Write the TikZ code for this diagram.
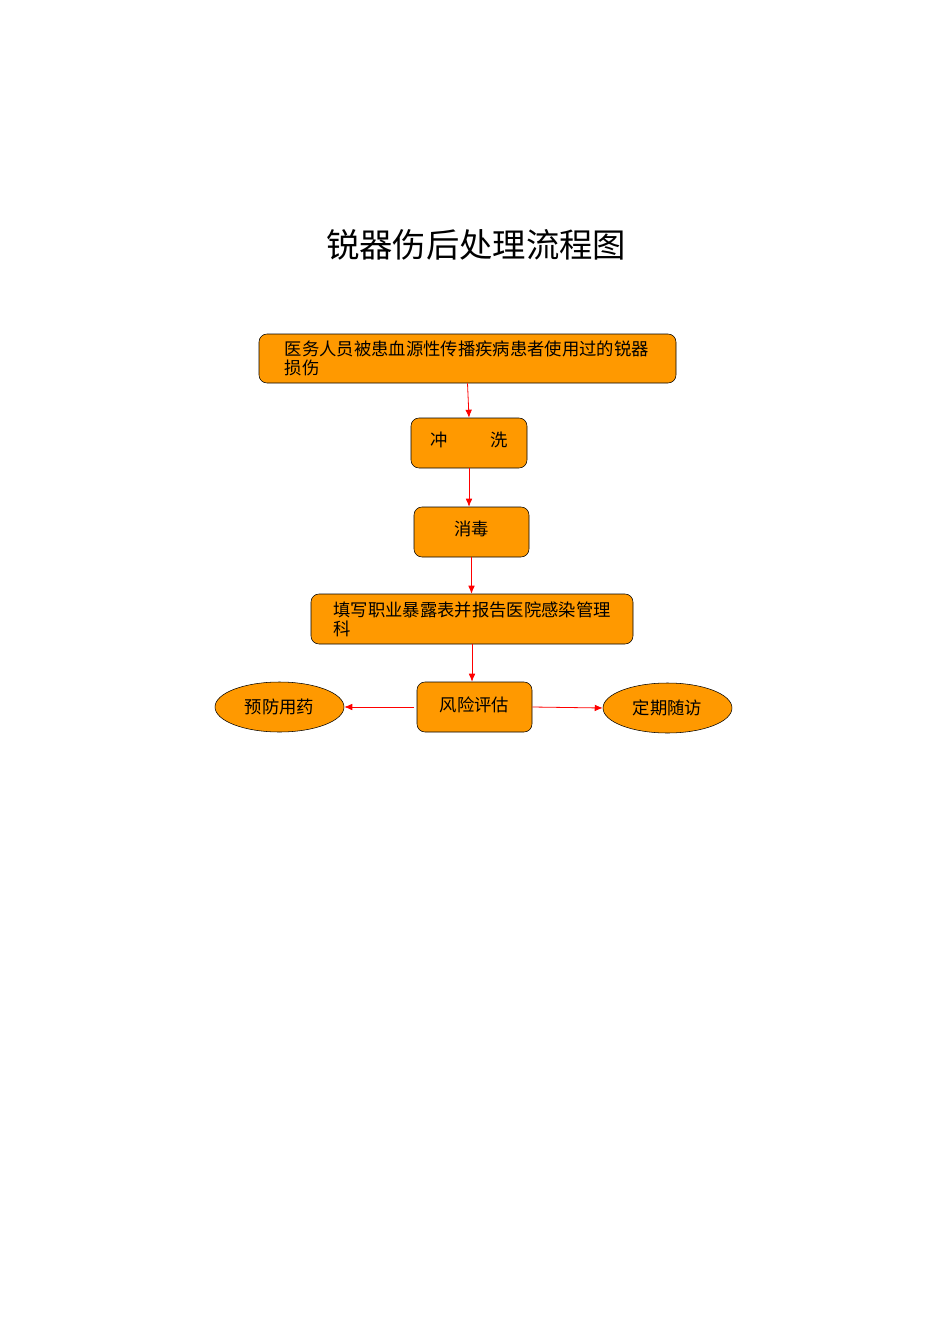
\documentclass[tikz,border=0pt]{standalone}
\usepackage{fontspec}
\setmainfont{Noto Sans CJK SC}
\usetikzlibrary{shapes.geometric,arrows.meta}
\definecolor{boxor}{HTML}{FF9900}
\tikzset{
  px/.style={x=0.75pt,y=-0.75pt},
  stepbox/.style={draw=black,fill=boxor,rounded corners=6pt,inner sep=0pt,font=\fontsize{13pt}{14.5pt}\selectfont},
  ovalbox/.style={draw=black,fill=boxor,ellipse,inner sep=0pt,font=\fontsize{13pt}{14.5pt}\selectfont},
  conn/.style={draw=red,-{Latex[length=6pt,width=5pt]},line width=0.6pt}
}
\begin{document}
\begin{tikzpicture}[px]
\useasboundingbox (0,0) rectangle (950,1344);
\node[font=\fontsize{25pt}{28pt}\selectfont] (title) at (476,245) {锐器伤后处理流程图};
\node[stepbox,minimum width=312.75pt,minimum height=36.75pt,text width=274pt,align=left] (b1) at (467.5,358.5) {医务人员被患血源性传播疾病患者使用过的锐器\\损伤};
\node[stepbox,minimum width=87pt,minimum height=37.5pt] (b2) at (469,443) {\raisebox{5pt}{冲\hspace{32pt}洗}};
\node[stepbox,minimum width=86.25pt,minimum height=37.5pt] (b3) at (471.5,532) {\raisebox{5pt}{消毒}};
\node[stepbox,minimum width=241.5pt,minimum height=37.5pt,text width=208pt,align=left] (b4) at (472,619) {填写职业暴露表并报告医院感染管理\\科};
\node[stepbox,minimum width=86.25pt,minimum height=37.5pt] (b5) at (474.5,707) {\raisebox{5pt}{风险评估}};
\node[ovalbox,minimum width=96.75pt,minimum height=37.5pt] (e1) at (279.5,707) {预防用药};
\node[ovalbox,minimum width=96.75pt,minimum height=37.5pt] (e2) at (667.5,708) {定期随访};
\draw[conn] (b1.south) -- (b2.north);
\draw[conn] (b2.south) -- (b3.north -| b2.south);
\draw[conn] (b3.south) -- (b4.north -| b3.south);
\draw[conn] (b4.south) -- (b5.north -| b4.south);
\draw[conn] ([xshift=-2pt]b5.west) -- (e1.east);
\draw[conn] (b5.east) -- (e2.west);
\end{tikzpicture}
\end{document}
